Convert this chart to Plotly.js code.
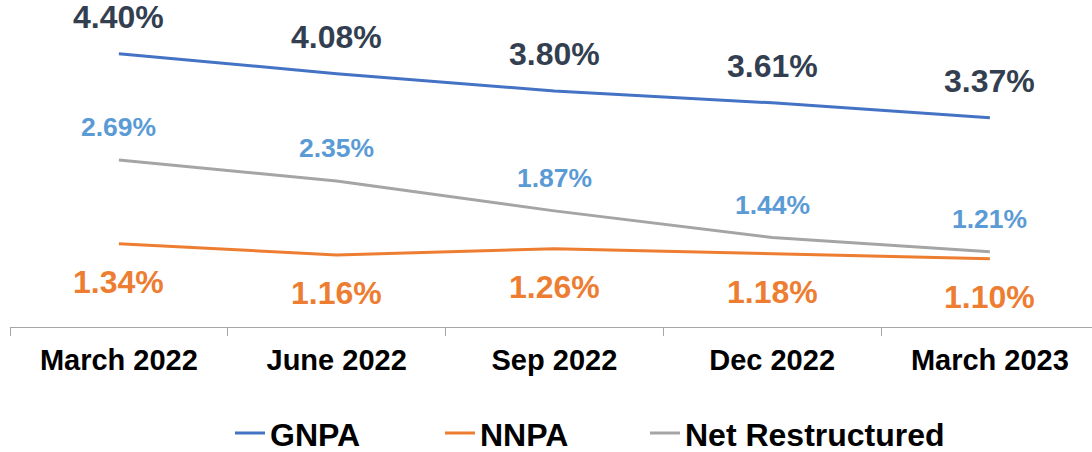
<!DOCTYPE html>
<html>
<head>
<meta charset="utf-8">
<script src="https://cdn.plot.ly/plotly-3.0.1.min.js"></script>
<style>html,body{margin:0;padding:0;background:#fff;}#chart{width:1092px;height:452px;}</style>
</head>
<body>
<div id="chart"></div>
<script>
const categories = ["March 2022", "June 2022", "Sep 2022", "Dec 2022", "March 2023"];
const gnpa = [4.40, 4.08, 3.80, 3.61, 3.37];
const nnpa = [1.34, 1.16, 1.26, 1.18, 1.10];
const netRestructured = [2.69, 2.35, 1.87, 1.44, 1.21];

const FONT = "Liberation Sans, Arial, sans-serif";
const fmt = v => v.toFixed(2) + "%";

const traces = [
  {name: "GNPA", x: categories, y: gnpa, type: "scatter", mode: "lines", legend: "legend",
   line: {color: "#4472c4", width: 3}},
  {name: "NNPA", x: categories, y: nnpa, type: "scatter", mode: "lines", legend: "legend2",
   line: {color: "#ed7d31", width: 3}},
  {name: "Net Restructured", x: categories, y: netRestructured, type: "scatter", mode: "lines", legend: "legend3",
   line: {color: "#a5a5a5", width: 3}}
];

const annotations = [];
function addLabels(vals, color, size, shift) {
  vals.forEach((v, i) => annotations.push({
    x: categories[i], y: v, xref: "x", yref: "y", text: fmt(v), showarrow: false,
    yshift: shift, font: {family: FONT, size: size, color: color, weight: "bold"}
  }));
}
addLabels(gnpa, "#333f50", 32, 37);
addLabels(netRestructured, "#5b9bd5", 26.5, 33);
addLabels(nnpa, "#ed7d31", 32, -38);

const legendFont = {family: FONT, size: 32, color: "#000000", weight: "bold"};
function legendAt(xpx) {
  return {orientation: "h", x: (xpx - 10) / 1082, xanchor: "left", y: -0.325, yanchor: "middle",
          bgcolor: "rgba(0,0,0,0)", font: legendFont};
}

const layout = {
  width: 1092, height: 452,
  margin: {l: 10, r: 0, t: 0, b: 125, autoexpand: false},
  paper_bgcolor: "#ffffff", plot_bgcolor: "#ffffff",
  showlegend: true,
  legend: legendAt(230),
  legend2: legendAt(440),
  legend3: legendAt(645),
  xaxis: {type: "category", range: [-0.5, 4.469], autorange: false,
          showline: true, linecolor: "#a6a6a6", linewidth: 1,
          tickson: "boundaries", ticks: "outside", ticklen: 8, tickcolor: "#a6a6a6", tickwidth: 1,
          ticklabelstandoff: 7,
          showgrid: false, zeroline: false,
          tickfont: {family: FONT, size: 29, color: "#000000", weight: "bold"}},
  yaxis: {range: [0, 5.266], autorange: false, visible: false, showgrid: false, zeroline: false},
  annotations: annotations
};

Plotly.newPlot("chart", traces, layout, {displayModeBar: false, staticPlot: true});
</script>
</body>
</html>
